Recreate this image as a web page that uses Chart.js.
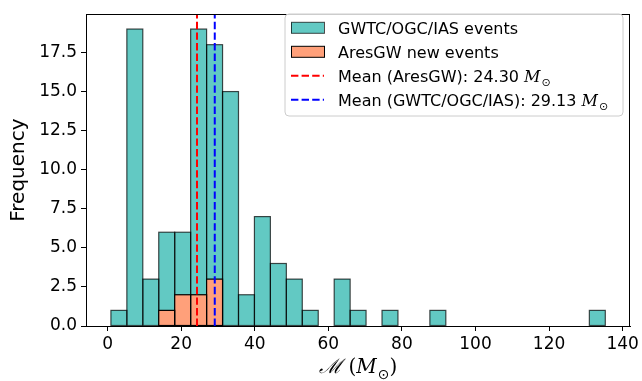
<!DOCTYPE html>
<html>
<head>
<meta charset="utf-8">
<script src="https://cdn.jsdelivr.net/npm/chart.js@4.4.1/dist/chart.umd.min.js"></script>
<style>
  html, body { margin: 0; padding: 0; background: #fff; }
  #wrap { width: 642px; height: 381px; }
</style>
</head>
<body>
<div id="wrap"><canvas id="hist" width="642" height="381"></canvas></div>
<script>
// histogram bins (centres, in solar masses) and counts per bin
var binCentres = [3.07, 7.40, 11.74, 16.07, 20.41, 24.74, 29.08, 33.41, 37.75, 42.08,
                  46.42, 50.75, 55.09, 59.42, 63.76, 68.09, 72.43, 76.76, 81.10, 85.43,
                  89.77, 94.10, 98.44, 102.77, 107.11, 111.44, 115.78, 120.11, 124.45, 128.78, 133.12];
var binWidth = 4.335;
var catalogCounts = [1, 19, 3, 6, 6, 19, 18, 15, 2, 7, 4, 3, 1, 0, 3, 1, 0, 1, 0, 0,
                     1, 0, 0, 0, 0, 0, 0, 0, 0, 0, 1];
var aresCounts = [0, 0, 0, 1, 2, 2, 3, 0, 0, 0, 0, 0, 0, 0, 0, 0, 0, 0, 0, 0,
                  0, 0, 0, 0, 0, 0, 0, 0, 0, 0, 0];
var meanAres = 24.30;
var meanCatalog = 29.13;
var xTicks = [0, 20, 40, 60, 80, 100, 120, 140];
var yTicks = [0, 2.5, 5, 7.5, 10, 12.5, 15, 17.5];

var TEAL = 'rgba(32,178,170,0.7)';
var SALMON = 'rgb(255,160,122)';
var DASH = [7.4, 3.2];

// plot box is 546px wide; pick x limits so one bin is 16px and the
// first bin edge sits 25px in (about matplotlib's 5% margin)
var PLOT_W = 546, BIN_PX = 16, EDGE_PX = 25;
var lo = binCentres[0] - binWidth / 2;
var xMin = lo - EDGE_PX * binWidth / BIN_PX;
var xMax = xMin + PLOT_W * binWidth / BIN_PX;
var yMax = Math.max.apply(null, catalogCounts) * 1.05;

function pts(counts) {
    return binCentres.map(function (c, i) { return {x: c, y: counts[i]}; });
}

function vline(x) {
    return [{x: x, y: 0}, {x: x, y: yMax}];
}

// bars span one whole bin on the x scale
function binPixels(ctx) {
    var s = ctx.chart.scales.x;
    if (!s) return undefined;
    return s.getPixelForValue(binWidth) - s.getPixelForValue(0);
}

// text with a mathtext-like "M_sun" tail
function drawSun(ctx, x, y, size) {
    ctx.font = 'italic ' + size + 'px "DejaVu Serif"';
    ctx.fillText('M', x, y);
    x += ctx.measureText('M').width + 1;
    ctx.font = Math.round(size * 0.7) + 'px "DejaVu Sans"';
    ctx.fillText('\u2299', x, y + size * 0.28);
    return x + ctx.measureText('\u2299').width;
}

// stroke each bar outline centred on its edge, like matplotlib patches,
// right after its own dataset so later datasets still cover it
var barEdges = {
    id: 'barEdges',
    afterDatasetDraw: function (chart, args) {
        var meta = args.meta;
        if (meta.type !== 'bar') return;
        var ds = chart.data.datasets[args.index];
        var ctx = chart.ctx;
        ctx.save();
        ctx.strokeStyle = ds.edgeColor;
        ctx.lineWidth = ds.edgeWidth;
        meta.data.forEach(function (el, i) {
            if (!ds.data[i].y) return;
            var top = Math.min(el.y, el.base), h = Math.abs(el.base - el.y);
            ctx.strokeRect(el.x - el.width / 2, top, el.width, h);
        });
        ctx.restore();
    }
};

var decorations = {
    id: 'decorations',
    afterDraw: function (chart) {
        var ctx = chart.ctx, a = chart.chartArea;
        ctx.save();

        // full frame round the axes
        ctx.strokeStyle = '#000';
        ctx.lineWidth = 1;
        ctx.strokeRect(Math.round(a.left) + 0.5, Math.round(a.top) + 0.5,
            Math.round(a.right - a.left) - 1, Math.round(a.bottom - a.top));

        // y title
        ctx.fillStyle = '#000';
        ctx.font = '20px "DejaVu Sans"';
        ctx.textAlign = 'center';
        ctx.textBaseline = 'middle';
        ctx.save();
        ctx.translate(19, (a.top + a.bottom) / 2);
        ctx.rotate(-Math.PI / 2);
        ctx.fillText('Frequency', 0, 0);
        ctx.restore();

        // x title: script M (M_sun)
        ctx.textAlign = 'left';
        ctx.textBaseline = 'alphabetic';
        var size = 20, base = 373;
        ctx.font = 'italic ' + size + 'px "DejaVu Serif"';
        var w1 = ctx.measureText('\u2133').width;
        ctx.font = size + 'px "DejaVu Serif"';
        var wp = ctx.measureText(' (').width, wc = ctx.measureText(')').width;
        ctx.font = 'italic ' + size + 'px "DejaVu Serif"';
        var wm = ctx.measureText('M').width + 1;
        ctx.font = Math.round(size * 0.7) + 'px "DejaVu Sans"';
        var ws = ctx.measureText('\u2299').width;
        var total = w1 + wp + wm + ws + wc;
        var x = (a.left + a.right) / 2 - total / 2;
        ctx.font = 'italic ' + size + 'px "DejaVu Serif"';
        ctx.fillText('\u2133', x, base);
        x += w1;
        ctx.font = size + 'px "DejaVu Serif"';
        ctx.fillText(' (', x, base);
        x += wp;
        x = drawSun(ctx, x, base, size);
        ctx.font = size + 'px "DejaVu Serif"';
        ctx.fillText(')', x, base);

        // legend box
        var bx = 285, by = 14, bw = 338, bh = 102, r = 4;
        ctx.beginPath();
        ctx.moveTo(bx + r, by);
        ctx.arcTo(bx + bw, by, bx + bw, by + bh, r);
        ctx.arcTo(bx + bw, by + bh, bx, by + bh, r);
        ctx.arcTo(bx, by + bh, bx, by, r);
        ctx.arcTo(bx, by, bx + bw, by, r);
        ctx.closePath();
        ctx.fillStyle = 'rgba(255,255,255,0.8)';
        ctx.fill();
        ctx.strokeStyle = '#cccccc';
        ctx.lineWidth = 1;
        ctx.stroke();

        var rows = [27.8, 51.8, 75.8, 99.8];
        var hx = 291, hw = 33, tx = 338;
        ctx.lineWidth = 1;
        ctx.fillStyle = TEAL;
        ctx.fillRect(hx, rows[0] - 5.5, hw, 11);
        ctx.strokeStyle = 'rgba(0,0,0,0.7)';
        ctx.strokeRect(hx + 0.5, rows[0] - 5.5, hw, 11);
        ctx.fillStyle = SALMON;
        ctx.fillRect(hx, rows[1] - 5.5, hw, 11);
        ctx.strokeStyle = '#000';
        ctx.strokeRect(hx + 0.5, rows[1] - 5.5, hw, 11);

        ctx.lineWidth = 2;
        ctx.setLineDash(DASH);
        [['#ff0000', rows[2]], ['#0000ff', rows[3]]].forEach(function (d) {
            ctx.strokeStyle = d[0];
            ctx.beginPath();
            ctx.moveTo(hx, d[1]);
            ctx.lineTo(hx + hw, d[1]);
            ctx.stroke();
        });
        ctx.setLineDash([]);

        ctx.fillStyle = '#000';
        ctx.textBaseline = 'alphabetic';
        var off = 6;
        ctx.font = '16px "DejaVu Sans"';
        ctx.fillText('GWTC/OGC/IAS events', tx, rows[0] + off);
        ctx.fillText('AresGW new events', tx, rows[1] + off);
        var s1 = 'Mean (AresGW): ' + meanAres.toFixed(2) + ' ';
        ctx.fillText(s1, tx, rows[2] + off);
        drawSun(ctx, tx + ctx.measureText(s1).width, rows[2] + off, 16);
        ctx.font = '16px "DejaVu Sans"';
        var s2 = 'Mean (GWTC/OGC/IAS): ' + meanCatalog.toFixed(2) + ' ';
        ctx.fillText(s2, tx, rows[3] + off);
        drawSun(ctx, tx + ctx.measureText(s2).width, rows[3] + off, 16);

        ctx.restore();
    }
};

Chart.defaults.font.family = '"DejaVu Sans"';
Chart.defaults.color = '#000';

new Chart(document.getElementById('hist'), {
    type: 'bar',
    data: {
        datasets: [
            {
                label: 'GWTC/OGC/IAS events',
                data: pts(catalogCounts),
                backgroundColor: TEAL,
                edgeColor: 'rgba(0,0,0,0.7)',
                edgeWidth: 1.2,
                order: 3
            },
            {
                label: 'AresGW new events',
                data: pts(aresCounts),
                backgroundColor: SALMON,
                edgeColor: '#000',
                edgeWidth: 1.2,
                order: 2
            },
            {
                type: 'line',
                label: 'Mean (AresGW)',
                data: vline(meanAres),
                borderColor: '#ff0000',
                borderWidth: 2,
                borderDash: DASH,
                pointRadius: 0,
                order: 1
            },
            {
                type: 'line',
                label: 'Mean (GWTC/OGC/IAS)',
                data: vline(meanCatalog),
                borderColor: '#0000ff',
                borderWidth: 2,
                borderDash: DASH,
                pointRadius: 0,
                order: 0
            }
        ]
    },
    options: {
        responsive: false,
        animation: false,
        datasets: {
            bar: {
                grouped: false,
                barThickness: binPixels,
                barPercentage: 1,
                categoryPercentage: 1,
                borderWidth: 0,
                inflateAmount: 0
            }
        },
        layout: {padding: {left: 0, right: 10, top: 6, bottom: 0}},
        plugins: {
            legend: {display: false},
            tooltip: {enabled: false}
        },
        scales: {
            x: {
                type: 'linear',
                min: xMin,
                max: xMax,
                offset: false,
                afterFit: function (s) { s.height = 55; },
                afterBuildTicks: function (s) {
                    s.ticks = xTicks.map(function (v) { return {value: v}; });
                },
                grid: {offset: false, drawOnChartArea: false, tickLength: 5, tickColor: '#000'},
                border: {color: '#000', width: 1},
                ticks: {font: {size: 17}, padding: 3, maxRotation: 0,
                    callback: function (v) { return String(v); }}
            },
            y: {
                min: 0,
                max: yMax,
                afterFit: function (s) { s.width = 86; },
                afterBuildTicks: function (s) {
                    s.ticks = yTicks.map(function (v) { return {value: v}; });
                },
                grid: {drawOnChartArea: false, tickLength: 5, tickColor: '#000'},
                border: {color: '#000', width: 1},
                ticks: {font: {size: 17}, padding: 4,
                    callback: function (v) { return v.toFixed(1); }}
            }
        }
    },
    plugins: [barEdges, decorations]
});
</script>
</body>
</html>
